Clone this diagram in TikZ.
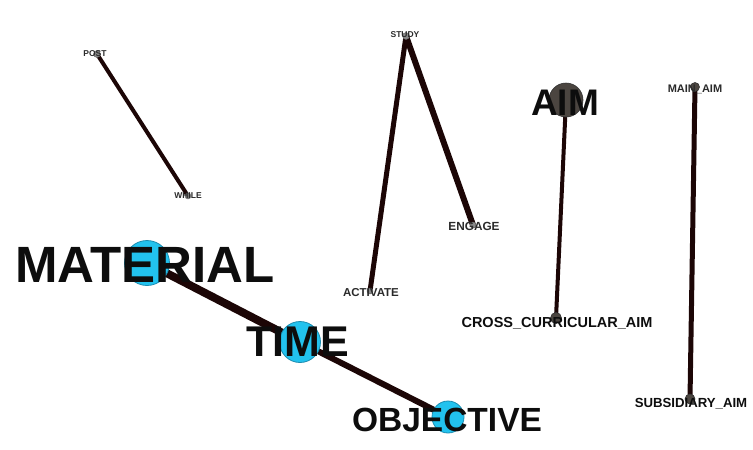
\documentclass[tikz,border=0pt]{standalone}
\usepackage{fontspec}
\setmainfont{Liberation Sans}
\newfontfamily\labfont{Liberation Sans Bold}
\usetikzlibrary{backgrounds}
\definecolor{edgec}{HTML}{1C0606}
\definecolor{cyanfill}{HTML}{22C2EE}
\definecolor{cyanline}{HTML}{1B8CB0}
\definecolor{darkfill}{HTML}{4B4540}
\definecolor{greyfill}{HTML}{8A8A8A}
\definecolor{smalltext}{HTML}{2A2A2A}
\tikzset{
  bluev/.style={circle, inner sep=0pt, fill=cyanfill, draw=cyanline, line width=0.8pt},
  darkv/.style={circle, inner sep=0pt, fill=darkfill, draw=black!80, line width=0.6pt},
  greyv/.style={circle, inner sep=0pt, fill=greyfill, draw=greyfill!70!black, line width=0.4pt},
  lab/.style={inner sep=0pt, anchor=center, font=\labfont\fontsize{#1}{#1}\selectfont, text=black!95, text depth=0pt},
  slab/.style={inner sep=0pt, anchor=center, font=\labfont\fontsize{#1}{#1}\selectfont, text=smalltext, text depth=0pt},
  link/.style={draw=edgec, line width=#1, line cap=round},
}
\begin{document}
\begin{tikzpicture}[x=1pt, y=-1pt]
\useasboundingbox (0,0) rectangle (753,450);
% vertices
\node[greyv, minimum size=7pt] (post) at (97,54) {};
\node[greyv, minimum size=6pt] (while) at (188,196) {};
\node[greyv, minimum size=7pt] (study) at (406,36) {};
\node[greyv, minimum size=6pt] (activate) at (370,291) {};
\node[greyv, minimum size=6pt] (engage) at (473,225) {};
\node[darkv, minimum size=34pt] (aim) at (566,100) {};
\node[darkv, minimum size=11pt] (cross) at (556,318) {};
\node[darkv, minimum size=9pt] (main) at (695,87) {};
\node[darkv, minimum size=10pt] (sub) at (690,399) {};
\node[bluev, minimum size=45pt] (material) at (147,263) {};
\node[bluev, minimum size=41pt] (time) at (300,342) {};
\node[bluev, minimum size=32pt] (objective) at (448,417) {};
% edges
\begin{scope}[on background layer]
\draw[link=4pt] (post.center) -- (while.center);
\draw[link=5pt] (study.center) -- (activate.center);
\draw[link=6pt] (study.center) -- (engage.center);
\draw[link=4pt] (aim.center) -- (cross.center);
\draw[link=5pt] (main.center) -- (sub.center);
\draw[link=8pt] (material.center) -- (time.center);
\draw[link=6pt] (time.center) -- (objective.center);
\end{scope}
% labels
\node[slab=8.5] (postl) at (95,54) {POST};
\node[slab=8.5] (whilel) at (188,196) {WHILE};
\node[slab=8.5] (studyl) at (405,35) {STUDY};
\node[slab=11.5] (activatel) at (371,292) {ACTIVATE};
\node[slab=11.8] (engagel) at (474,226) {ENGAGE};
\node[lab=37] (aiml) at (565,103) {AIM};
\node[lab=14.5] (crossl) at (557,322) {CROSS\_CURRICULAR\_AIM};
\node[slab=11] (mainl) at (695,89) {MAIN\_AIM};
\node[lab=13.2] (subl) at (691,403) {SUBSIDIARY\_AIM};
\node[lab=51] (materiall) at (145,265) {MATERIAL};
\node[lab=43] (timel) at (298,342) {TIME};
\node[lab=33.5] (objectivel) at (447,420) {OBJECTIVE};
\end{tikzpicture}
\end{document}
